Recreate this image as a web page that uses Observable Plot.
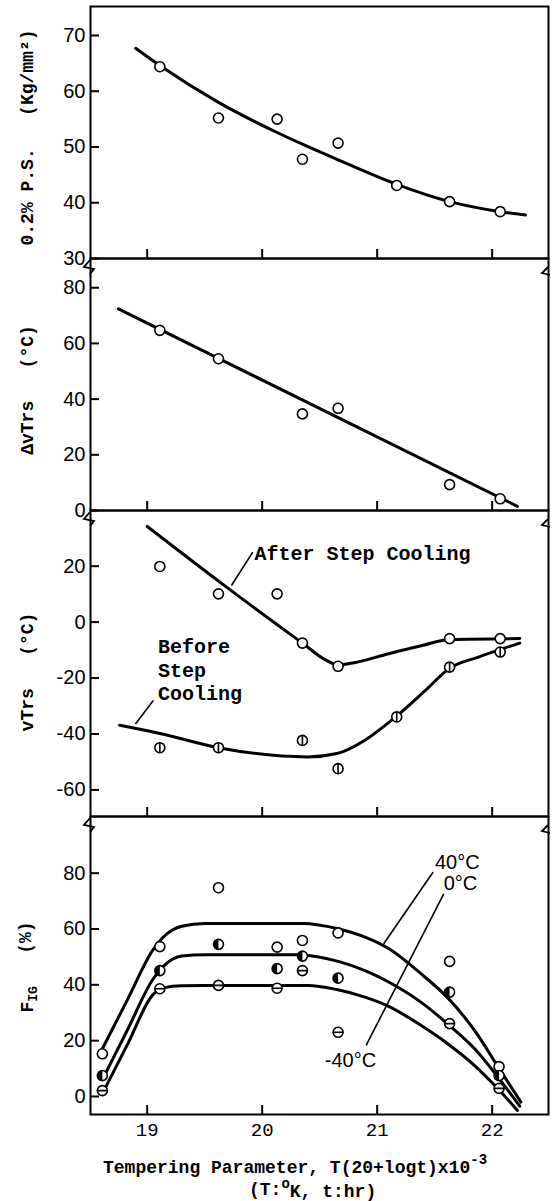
<!DOCTYPE html>
<html><head><meta charset="utf-8">
<script src="https://cdn.jsdelivr.net/npm/d3@7"></script>
<script src="https://cdn.jsdelivr.net/npm/@observablehq/plot@0.6"></script>
<style>
body{margin:0;background:#fff;}
#chart svg{display:block;overflow:visible;}
</style></head><body><div id="chart"></div>
<script>
// ---------- shared x axis ----------
const xTicks = [19, 20, 21, 22];

// ---------- panel 1 : 0.2% proof stress ----------
const psTicks = [30, 40, 50, 60, 70];
const psX = [19.11, 19.62, 20.13, 20.35, 20.66, 21.17, 21.63, 22.07];
const psY = [64.4, 55.2, 55.0, 47.8, 50.7, 43.1, 40.2, 38.4];
const psCurveX = [18.90, 19.11, 19.62, 20.13, 20.35, 20.66, 21.17, 21.63, 22.07, 22.29];
const psCurveY = [67.7, 64.6, 58.0, 52.6, 50.5, 47.7, 43.3, 40.2, 38.4, 37.8];

// ---------- panel 2 : delta vTrs ----------
const dvTicks = [0, 20, 40, 60, 80];
const dvX = [19.11, 19.62, 20.35, 20.66, 21.63, 22.07];
const dvY = [64.7, 54.5, 34.7, 36.7, 9.3, 4.2];
const dvLineX = [18.75, 22.22];
const dvLineY = [72.4, 1.5];

// ---------- panel 3 : vTrs ----------
const vtTicks = [-60, -40, -20, 0, 20];
const afterX = [19.11, 19.62, 20.13, 20.35, 20.66, 21.63, 22.07];
const afterY = [19.9, 10.1, 10.1, -7.5, -15.8, -5.9, -5.9];
const afterCurveX = [19.0, 19.69, 20.35, 20.55, 20.66, 20.8, 21.1, 21.4, 21.63, 22.24];
const afterCurveY = [34.2, 12.5, -7.5, -13.5, -15.3, -14.5, -11.3, -8.3, -6.2, -5.9];
const beforeX = [19.11, 19.62, 20.35, 20.66, 21.17, 21.63, 22.07];
const beforeY = [-44.9, -44.9, -42.3, -52.4, -33.9, -16.1, -10.7];
const beforeCurveX = [18.76, 19.12, 19.63, 20.40, 20.65, 20.89, 21.16, 21.42, 21.63, 21.88, 22.24];
const beforeCurveY = [-36.9, -39.9, -45.0, -48.2, -47.0, -42.3, -33.9, -24.4, -16.5, -12.5, -7.5];
const vtLabelText = ["After Step Cooling", "Before", "Step", "Cooling"];
const vtLabelX = [19.934, 19.093, 19.093, 19.093];
const vtLabelY = [24.65, -8.7, -17.3, -25.5];
const vtLeaderX1 = [19.918, 19.053], vtLeaderY1 = [25.0, -28.0];
const vtLeaderX2 = [19.733, 18.898], vtLeaderY2 = [13.1, -36.4];

// ---------- panel 4 : FIG ----------
const figTicks = [0, 20, 40, 60, 80];
const figX = [18.61, 19.11, 19.62, 20.13, 20.35, 20.66, 21.63, 22.06];
const fig40 = [15.3, 53.7, 74.8, 53.5, 55.9, 58.6, 48.4, 10.7];
const fig0 = [7.5, 45.1, 54.5, 45.8, 50.3, 42.4, 37.4, 7.5];
const figM40 = [2.1, 38.6, 39.8, 38.8, 45.1, 23.0, 26.1, 2.9];
const c40X = [18.61, 18.83, 19.05, 19.15, 19.3, 19.5, 20.35, 20.67, 20.9, 21.1, 21.38, 21.61, 21.85, 22.05, 22.25];
const c40Y = [17.1, 34.8, 52.5, 57.5, 61.0, 62.0, 62.0, 60.0, 57.0, 53.0, 44.0, 35.5, 23.5, 10.7, -2.0];
const c0X = [18.61, 18.83, 19.05, 19.15, 19.3, 19.5, 20.3, 20.67, 20.9, 21.1, 21.38, 21.61, 21.85, 22.04, 22.24];
const c0Y = [6.0, 24.0, 42.0, 47.0, 50.3, 50.8, 50.8, 48.3, 45.0, 41.0, 33.8, 26.1, 17.0, 7.5, -3.5];
const cM40X = [18.61, 18.83, 19.05, 19.15, 19.3, 19.5, 20.4, 20.65, 20.9, 21.1, 21.38, 21.61, 21.85, 22.04, 22.22];
const cM40Y = [1.0, 18.75, 36.5, 39.0, 39.7, 39.8, 39.8, 38.3, 35.5, 32.3, 25.5, 19.0, 11.0, 3.2, -5.0];
const figLabelText = ["40°C", "0°C", "-40°C"];
const figLabelX = [21.502, 21.579, 20.544];
const figLabelY = [83.9, 76.2, 12.9];
const figLeaderX1 = [21.487, 21.579], figLeaderY1 = [80.4, 72.6];
const figLeaderX2 = [21.057, 20.904], figLeaderY2 = [54.7, 18.3];

// ---------- layout ----------
const W = 556, ML = 90, MR = 8;
const xDomain = [18.507, 22.49];
const MONO = "Liberation Mono, DejaVu Sans Mono, monospace";
const SANS = "Liberation Sans, Arial, sans-serif";

// symbols
const circleV = {draw(ctx, size) { const r = Math.sqrt(size / Math.PI); ctx.moveTo(r, 0); ctx.arc(0, 0, r, 0, 2 * Math.PI); ctx.moveTo(0, -r); ctx.lineTo(0, r); }};
const circleH = {draw(ctx, size) { const r = Math.sqrt(size / Math.PI); ctx.moveTo(r, 0); ctx.arc(0, 0, r, 0, 2 * Math.PI); ctx.moveTo(-r, 0); ctx.lineTo(r, 0); }};
const halfLeft = {draw(ctx, size) { const r = Math.sqrt(size / Math.PI); ctx.moveTo(0, -r); ctx.arc(0, 0, r, -Math.PI / 2, Math.PI / 2, true); ctx.closePath(); }};

const LW = 3;
const dotOpts = {r: 5, stroke: "black", strokeWidth: 1.6, fill: "white"};

function panel({height, marginTop = 0, marginBottom = 0, yDomain, yTicks, marks, showX}) {
  return Plot.plot({
    width: W, height, marginLeft: ML, marginRight: MR, marginTop, marginBottom,
    x: {domain: xDomain},
    y: {domain: yDomain},
    style: {fontFamily: SANS, fontSize: "19px", color: "black", background: "transparent", overflow: "visible"},
    marks: [
      ...marks,
      Plot.frame({stroke: "black", strokeWidth: 2}),
      Plot.axisY({ticks: yTicks, tickSize: -9, tickPadding: 14, strokeWidth: 2, label: null, fontSize: 20, fontFamily: SANS, tickFormat: d => String(d)}),
      showX
        ? Plot.axisX({ticks: xTicks, tickSize: -9, tickPadding: 17, strokeWidth: 2, label: null, fontSize: 19, fontFamily: MONO, tickFormat: d => String(d)})
        : Plot.axisX({ticks: xTicks, tickSize: -9, strokeWidth: 2, label: null, tickFormat: () => ""})
    ]
  });
}

function yLabel(svg, cy, build) {
  const t = d3.select(svg).append("text")
    .attr("transform", `translate(28,${cy}) rotate(-90)`)
    .attr("text-anchor", "middle").attr("dominant-baseline", "central")
    .attr("font-family", MONO).attr("font-weight", "bold").attr("font-size", 18)
    .style("white-space", "pre");
  build(t);
}

function breaks(svg, y0, left = true, right = true) {
  const g = d3.select(svg).append("g").attr("fill", "none").attr("stroke", "black").attr("stroke-width", 1.8);
  if (left) g.append("path").attr("d", `M${ML},${y0 + 2} l-6,7 l10,2 l-4,5`);
  if (right) { const x = W - MR; g.append("path").attr("d", `M${x},${y0 + 9} l-6,6 l8,2`); }
}

const chart = document.getElementById("chart");

// panel 1
const p1 = panel({
  height: 258, marginTop: 6, yDomain: [30, 75.2], yTicks: psTicks,
  marks: [
    Plot.line(psCurveX, {x: psCurveX, y: psCurveY, curve: "monotone-x", stroke: "black", strokeWidth: LW}),
    Plot.dot(psX, {x: psX, y: psY, ...dotOpts})
  ]
});
yLabel(p1, 137.5, t => t.text("0.2% P.S.   (Kg/mm²)"));
chart.append(p1);

// panel 2
const p2 = panel({
  height: 252, yDomain: [0, 90.5], yTicks: dvTicks,
  marks: [
    Plot.line(dvLineX, {x: dvLineX, y: dvLineY, stroke: "black", strokeWidth: LW}),
    Plot.dot(dvX, {x: dvX, y: dvY, ...dotOpts})
  ]
});
yLabel(p2, 132, t => t.text("ΔvTrs   (°C)"));
breaks(p2, 0);
chart.append(p2);

// panel 3
const p3 = panel({
  height: 306, yDomain: [-69.5, 39.9], yTicks: vtTicks,
  marks: [
    Plot.line(afterCurveX, {x: afterCurveX, y: afterCurveY, curve: "monotone-x", stroke: "black", strokeWidth: LW}),
    Plot.line(beforeCurveX, {x: beforeCurveX, y: beforeCurveY, curve: "monotone-x", stroke: "black", strokeWidth: LW}),
    Plot.link(vtLeaderX1, {x1: vtLeaderX1, y1: vtLeaderY1, x2: vtLeaderX2, y2: vtLeaderY2, stroke: "black", strokeWidth: 1.6}),
    Plot.dot(afterX, {x: afterX, y: afterY, ...dotOpts}),
    Plot.dot(beforeX, {x: beforeX, y: beforeY, ...dotOpts, symbol: circleV}),
    Plot.text(vtLabelText, {x: vtLabelX, y: vtLabelY, text: vtLabelText, textAnchor: "start", fontFamily: MONO, fontWeight: "bold", fontSize: 20, fill: "black"})
  ]
});
yLabel(p3, 162, t => t.text("vTrs   (°C)"));
breaks(p3, 0);
chart.append(p3);

// panel 4
const p4 = panel({
  height: 385, marginBottom: 87, yDomain: [-6.45, 100.3], yTicks: figTicks, showX: true,
  marks: [
    Plot.line(c40X, {x: c40X, y: c40Y, curve: "monotone-x", stroke: "black", strokeWidth: LW}),
    Plot.line(c0X, {x: c0X, y: c0Y, curve: "monotone-x", stroke: "black", strokeWidth: LW}),
    Plot.line(cM40X, {x: cM40X, y: cM40Y, curve: "monotone-x", stroke: "black", strokeWidth: LW}),
    Plot.link(figLeaderX1, {x1: figLeaderX1, y1: figLeaderY1, x2: figLeaderX2, y2: figLeaderY2, stroke: "black", strokeWidth: 1.6}),
    Plot.dot(figX, {x: figX, y: fig40, ...dotOpts}),
    Plot.dot(figX, {x: figX, y: fig0, ...dotOpts}),
    Plot.dot(figX, {x: figX, y: fig0, r: 5, symbol: halfLeft, fill: "black", stroke: "none"}),
    Plot.dot(figX, {x: figX, y: figM40, ...dotOpts, symbol: circleH}),
    Plot.text(figLabelText, {x: figLabelX, y: figLabelY, text: figLabelText, textAnchor: "start", fontFamily: SANS, fontSize: 20, fill: "black"})
  ]
});
yLabel(p4, 151, t => {
  t.append("tspan").text("F");
  t.append("tspan").attr("dy", "0.35em").attr("font-size", 13).text("IG");
  t.append("tspan").attr("dy", "-0.35em").text("   (%)");
});
breaks(p4, 0);
{
  const s = d3.select(p4);
  const t1 = s.append("text").attr("x", 103).attr("y", 352).attr("text-anchor", "start").attr("dominant-baseline", "central")
    .attr("font-family", MONO).attr("font-weight", "bold").attr("font-size", 18).style("white-space", "pre");
  t1.append("tspan").text("Tempering Parameter, T(20+logt)x10");
  t1.append("tspan").attr("dy", "-0.55em").attr("font-size", 14).text("-3");
  const t2 = s.append("text").attr("x", 249).attr("y", 374).attr("text-anchor", "start").attr("dominant-baseline", "central")
    .attr("font-family", MONO).attr("font-weight", "bold").attr("font-size", 18).style("white-space", "pre");
  t2.append("tspan").text("(T:");
  t2.append("tspan").attr("dy", "-0.45em").attr("font-size", 14).text("o");
  t2.append("tspan").attr("dy", "0.45em").text("K, t:hr)");
}
chart.append(p4);
</script>
</body></html>
